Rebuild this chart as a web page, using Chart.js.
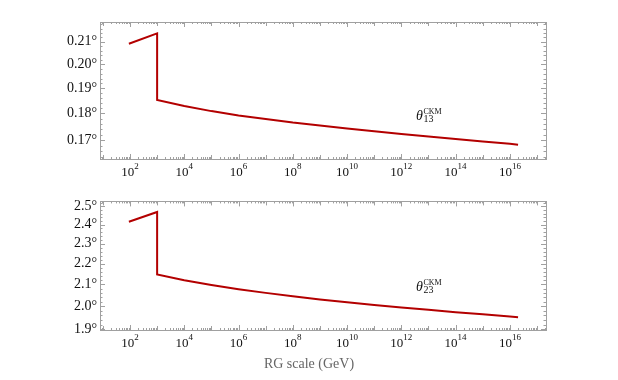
<!DOCTYPE html>
<html>
<head>
<meta charset="utf-8">
<script src="https://cdn.jsdelivr.net/npm/chart.js@4.4.1/dist/chart.umd.min.js"></script>
<style>
  body { margin: 0; background: #fff; }
  #wrap { position: relative; width: 618px; height: 380px; }
  #wrap canvas { position: absolute; left: 0; }
</style>
</head>
<body>
<div id="wrap">
  <canvas id="chartTop" width="618" height="190" style="top:0"></canvas>
  <canvas id="chartBottom" width="618" height="190" style="top:190px"></canvas>
</div>
<script>
// RG scale in GeV (two points at 1 TeV make the vertical step)
const energyGeV = [91.19, 1e3, 1e3, 1e4, 1e5, 1e6, 1e7, 1e8, 1e9, 1e10, 1e11, 1e12, 1e13, 1e14, 1e15, 1e16, 2e16];
// mixing angles in degrees
const theta13 = [0.2091, 0.2138, 0.1853, 0.1829, 0.1809, 0.1792, 0.1779, 0.1765, 0.1754, 0.1743, 0.1732, 0.1722, 0.1713, 0.1704, 0.1695, 0.1686, 0.1683];
const theta23 = [2.416, 2.469, 2.147, 2.120, 2.098, 2.078, 2.061, 2.046, 2.031, 2.018, 2.006, 1.995, 1.985, 1.974, 1.965, 1.955, 1.952];

// tick labels
const xTickExponents = [2, 4, 6, 8, 10, 12, 14, 16];
const theta13Ticks = [0.17, 0.18, 0.19, 0.20, 0.21];
const theta23Ticks = [1.9, 2.0, 2.1, 2.2, 2.3, 2.4, 2.5];
const xTitle = 'RG scale (GeV)';

const serif = '"Liberation Serif", "DejaVu Serif", serif';
const lineColor = '#b30000';
const frameColor = '#a0a0a0';

// frame with inward ticks on all four sides, plus the 10^n labels
const framePlugin = {
    id: 'frameTicks',
    afterDraw(chart, args, opts) {
        const { ctx, chartArea: a, scales: { x, y } } = chart;
        ctx.save();
        ctx.strokeStyle = frameColor;
        ctx.lineWidth = 1;
        ctx.strokeRect(Math.round(a.left) + 0.5, Math.round(a.top) + 0.5,
            Math.round(a.right - a.left), Math.round(a.bottom - a.top));

        ctx.beginPath();
        const dMin = Math.floor(Math.log10(x.min));
        const dMax = Math.ceil(Math.log10(x.max));
        for (let d = dMin; d <= dMax; d++) {
            for (let k = 1; k < 10; k++) {
                const v = k * Math.pow(10, d);
                if (v < x.min || v > x.max) continue;
                const px = Math.round(x.getPixelForValue(v)) + 0.5;
                const len = k === 1 ? (d % 2 === 0 ? 5 : 4) : 2;
                ctx.moveTo(px, a.bottom); ctx.lineTo(px, a.bottom - len);
                ctx.moveTo(px, a.top); ctx.lineTo(px, a.top + len);
            }
        }
        // y ticks: majors from the label list, minors in between
        const step = opts.minorStep;
        const start = Math.ceil(y.min / step) * step;
        for (let v = start; v <= y.max; v += step) {
            const isMajor = opts.majors.some(m => Math.abs(m - v) < step / 10);
            const py = Math.round(y.getPixelForValue(v)) + 0.5;
            const len = isMajor ? 5 : 2.5;
            ctx.moveTo(a.left, py); ctx.lineTo(a.left + len, py);
            ctx.moveTo(a.right, py); ctx.lineTo(a.right - len, py);
        }
        ctx.stroke();

        // x tick labels with real superscripts
        ctx.fillStyle = '#111';
        ctx.textBaseline = 'alphabetic';
        ctx.textAlign = 'left';
        xTickExponents.forEach(e => {
            const px = x.getPixelForValue(Math.pow(10, e));
            ctx.font = '13px ' + serif;
            const wBase = ctx.measureText('10').width;
            ctx.font = '9px ' + serif;
            const wSup = ctx.measureText(String(e)).width;
            const left = px - (wBase + wSup) / 2;
            ctx.font = '13px ' + serif;
            ctx.fillText('10', left, a.bottom + 16.5);
            ctx.font = '9px ' + serif;
            ctx.fillText(String(e), left + wBase, a.bottom + 10);
        });

        // curve label theta^CKM_ij
        const lx = x.getPixelForValue(opts.labelAt[0]);
        const ly = y.getPixelForValue(opts.labelAt[1]);
        ctx.font = 'italic 14px ' + serif;
        ctx.fillText('θ', lx, ly);
        const wt = ctx.measureText('θ').width;
        ctx.font = '8px ' + serif;
        ctx.fillText('CKM', lx + wt + 0.5, ly - 6);
        ctx.font = '10px ' + serif;
        ctx.fillText(opts.sub, lx + wt + 0.5, ly + 2.5);

        if (opts.title) {
            ctx.font = '14px ' + serif;
            ctx.fillStyle = '#666';
            ctx.textAlign = 'center';
            ctx.fillText(opts.title, chart.width / 2, a.bottom + 38);
        }
        ctx.restore();
    }
};

function makePanel(canvasId, values, yMin, yMax, ticks, decimals, padTop, xHeight, extra) {
    const canvas = document.getElementById(canvasId);
    return new Chart(canvas, {
        type: 'scatter',
        data: {
            datasets: [{
                data: energyGeV.map((e, i) => ({ x: e, y: values[i] })),
                showLine: true,
                borderColor: lineColor,
                borderWidth: 2,
                pointRadius: 0,
                tension: 0
            }]
        },
        options: {
            responsive: false,
            animation: false,
            events: [],
            layout: { padding: { top: padTop, right: 72, left: 0, bottom: 0 } },
            scales: {
                x: {
                    type: 'logarithmic',
                    min: 7.85,
                    max: 2.14e17,
                    bounds: 'data',
                    grid: { display: false, drawTicks: false },
                    border: { display: false },
                    ticks: { display: false },
                    afterFit: (scale) => { scale.height = xHeight; }
                },
                y: {
                    type: 'logarithmic',
                    min: yMin,
                    max: yMax,
                    bounds: 'data',
                    grid: { display: false, drawTicks: false },
                    border: { display: false },
                    afterBuildTicks: (scale) => { scale.ticks = ticks.map(v => ({ value: v })); },
                    ticks: {
                        padding: 3,
                        color: '#111',
                        font: { family: serif, size: 14 },
                        callback: (v) => Number(v).toFixed(decimals) + '°'
                    },
                    afterFit: (scale) => { scale.width = 100; }
                }
            },
            plugins: {
                legend: { display: false },
                tooltip: { enabled: false },
                frameTicks: extra
            }
        },
        plugins: [framePlugin]
    });
}

makePanel('chartTop', theta13, 0.1632, 0.2191, theta13Ticks, 2, 22, 31,
    { majors: theta13Ticks, minorStep: 0.002, labelAt: [Math.pow(10, 12.54), 0.1775], sub: '13' });

makePanel('chartBottom', theta23, 1.897, 2.528, theta23Ticks, 1, 3, 50,
    { majors: theta23Ticks, minorStep: 0.02, labelAt: [Math.pow(10, 12.54), 2.0706], sub: '23', title: xTitle });
</script>
</body>
</html>
